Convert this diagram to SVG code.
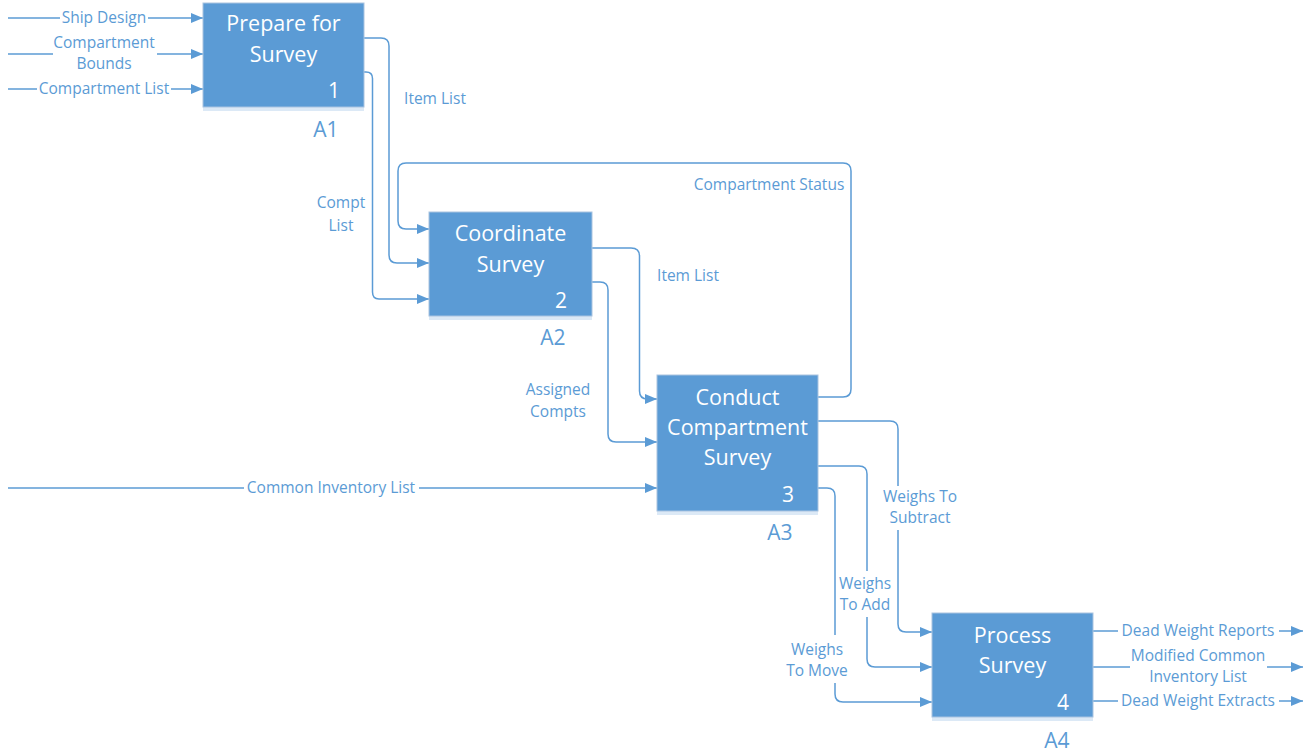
<svg xmlns="http://www.w3.org/2000/svg" width="1304" height="752" viewBox="0 0 1304 752">
<style>
.box{fill:#5B9BD5;stroke:#A9C3E0;stroke-width:1}
.shadow{fill:#DCE9F6}
.title{font-family:"Open Sans","Liberation Sans",sans-serif;font-size:21.5px;fill:#FFFFFF;text-anchor:middle}
.num{font-family:"Open Sans","Liberation Sans",sans-serif;font-size:21px;fill:#FFFFFF;text-anchor:middle}
.alabel{font-family:"Open Sans","Liberation Sans",sans-serif;font-size:21px;fill:#5B9BD5;text-anchor:middle}
.lbl{font-family:"Open Sans","Liberation Sans",sans-serif;font-size:15.5px;fill:#5B9BD5;text-anchor:middle}
.c{fill:none;stroke:#5B9BD5;stroke-width:1.5}
</style>
<defs>
<marker id="arr" viewBox="0 0 12 10" refX="12" refY="5" markerWidth="12" markerHeight="10" markerUnits="userSpaceOnUse" orient="auto">
<path d="M0,0 L12,5 L0,10 z" fill="#5B9BD5"/>
</marker>
</defs>
<rect width="1304" height="752" fill="#FFFFFF"/>

<g id="connectors">
<!-- inputs to A1 -->
<path class="c" d="M8,18 H60"/>
<path class="c" d="M148,18 H203" marker-end="url(#arr)"/>
<path class="c" d="M8,54 H53"/>
<path class="c" d="M157,54 H203" marker-end="url(#arr)"/>
<path class="c" d="M8,89 H37"/>
<path class="c" d="M171,89 H203" marker-end="url(#arr)"/>
<!-- A1 -> A2 -->
<path class="c" d="M364,38 H381 Q389,38 389,46 V255 Q389,263 397,263 H429" marker-end="url(#arr)"/>
<path class="c" d="M364,72 H366 Q372.5,72 372.5,78.5 V292 Q372.5,299 379,299 H429" marker-end="url(#arr)"/>
<!-- Compartment Status A3 -> A2 -->
<path class="c" d="M818,397 H843 Q851,397 851,389 V171 Q851,163 843,163 H406 Q398,163 398,171 V221 Q398,229 406,229 H429" marker-end="url(#arr)"/>
<!-- A2 -> A3 -->
<path class="c" d="M592,248 H631 Q639.5,248 639.5,256 V391 Q639.5,399 647.5,399 H657" marker-end="url(#arr)"/>
<path class="c" d="M592,282 H600 Q608,282 608,290 V434 Q608,442 616,442 H657" marker-end="url(#arr)"/>
<!-- Common Inventory List -->
<path class="c" d="M8,488 H244"/>
<path class="c" d="M419,488 H657" marker-end="url(#arr)"/>
<!-- A3 -> A4 -->
<path class="c" d="M818,421 H890 Q898,421 898,429 V486"/>
<path class="c" d="M898,530 V624 Q898,632 906,632 H932" marker-end="url(#arr)"/>
<path class="c" d="M818,466 H859 Q867,466 867,474 V571"/>
<path class="c" d="M867,617 V659 Q867,667 875,667 H932" marker-end="url(#arr)"/>
<path class="c" d="M818,488 H827 Q835,488 835,496 V635"/>
<path class="c" d="M835,683 V694 Q835,702 843,702 H932" marker-end="url(#arr)"/>
<!-- A4 outputs -->
<path class="c" d="M1093,631 H1118"/>
<path class="c" d="M1279,631 H1303" marker-end="url(#arr)"/>
<path class="c" d="M1093,667 H1130"/>
<path class="c" d="M1267,667 H1303" marker-end="url(#arr)"/>
<path class="c" d="M1093,701 H1118"/>
<path class="c" d="M1279,701 H1303" marker-end="url(#arr)"/>
</g>

<g id="connector-labels">
<text class="lbl" x="104" y="23">Ship Design</text>
<text class="lbl" x="104" y="48">Compartment</text>
<text class="lbl" x="104" y="69">Bounds</text>
<text class="lbl" x="104" y="94">Compartment List</text>
<text class="lbl" x="435" y="104">Item List</text>
<text class="lbl" x="341" y="208">Compt</text>
<text class="lbl" x="341" y="231">List</text>
<text class="lbl" x="769" y="190">Compartment Status</text>
<text class="lbl" x="688" y="281">Item List</text>
<text class="lbl" x="558" y="395">Assigned</text>
<text class="lbl" x="558" y="417">Compts</text>
<text class="lbl" x="331" y="493">Common Inventory List</text>
<text class="lbl" x="920" y="502">Weighs To</text>
<text class="lbl" x="920" y="523">Subtract</text>
<text class="lbl" x="865" y="589">Weighs</text>
<text class="lbl" x="865" y="610">To Add</text>
<text class="lbl" x="817" y="655">Weighs</text>
<text class="lbl" x="817" y="676">To Move</text>
<text class="lbl" x="1198" y="636">Dead Weight Reports</text>
<text class="lbl" x="1198" y="661">Modified Common</text>
<text class="lbl" x="1198" y="682">Inventory List</text>
<text class="lbl" x="1198" y="706">Dead Weight Extracts</text>
</g>

<g id="A1">
<rect class="shadow" x="203" y="107" width="161" height="4"/>
<rect class="box" x="203" y="3" width="161" height="104"/>
<text class="title" x="283.5" y="31">Prepare for</text>
<text class="title" x="283.5" y="62">Survey</text>
<text class="num" x="334" y="98">1</text>
<text class="alabel" x="326" y="137">A1</text>
</g>

<g id="A2">
<rect class="shadow" x="429" y="316" width="163" height="4"/>
<rect class="box" x="429" y="212" width="163" height="104"/>
<text class="title" x="510.5" y="241">Coordinate</text>
<text class="title" x="510.5" y="272">Survey</text>
<text class="num" x="561" y="308">2</text>
<text class="alabel" x="553" y="345">A2</text>
</g>

<g id="A3">
<rect class="shadow" x="657" y="511" width="161" height="4"/>
<rect class="box" x="657" y="375" width="161" height="136"/>
<text class="title" x="737.5" y="405">Conduct</text>
<text class="title" x="737.5" y="435">Compartment</text>
<text class="title" x="737.5" y="465">Survey</text>
<text class="num" x="788" y="502">3</text>
<text class="alabel" x="780" y="540">A3</text>
</g>

<g id="A4">
<rect class="shadow" x="932" y="717" width="161" height="4"/>
<rect class="box" x="932" y="613" width="161" height="104"/>
<text class="title" x="1012.5" y="643">Process</text>
<text class="title" x="1012.5" y="673">Survey</text>
<text class="num" x="1063" y="710">4</text>
<text class="alabel" x="1057" y="748">A4</text>
</g>
</svg>
